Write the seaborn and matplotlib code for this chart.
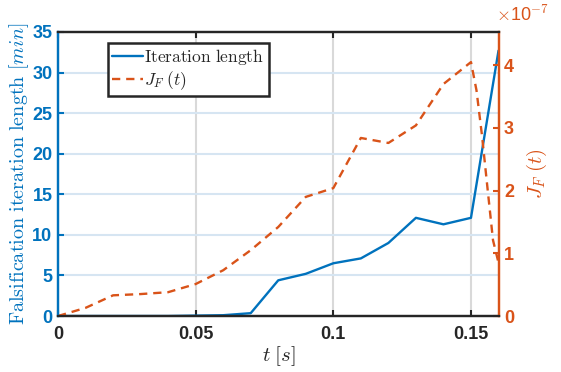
import matplotlib
matplotlib.use("Agg")
import matplotlib.pyplot as plt
import seaborn as sns
import numpy as np

# data
t_iter = [0, 0.01, 0.02, 0.03, 0.04, 0.05, 0.06, 0.07, 0.08, 0.09, 0.10, 0.11, 0.12, 0.13, 0.14, 0.15, 0.16]
iter_len = [0, 0, 0, 0, 0, 0.05, 0.1, 0.35, 4.4, 5.2, 6.5, 7.1, 9.0, 12.1, 11.3, 12.1, 32.7]

t_jf = [0, 0.01, 0.02, 0.03, 0.04, 0.05, 0.06, 0.07, 0.08, 0.09, 0.10, 0.11, 0.12, 0.13, 0.14, 0.15,
        0.152, 0.154, 0.156, 0.158, 0.16]
jf = [0, 0.13, 0.33, 0.35, 0.38, 0.51, 0.73, 1.05, 1.42, 1.9, 2.04, 2.84, 2.76, 3.04, 3.7, 4.05,
      3.6, 2.88, 2.04, 1.21, 0.85]
jf = [v * 1e-7 for v in jf]

blue = "#0072BD"
orange = "#D95319"
dark = "#262626"

sns.set_style("white")
plt.rcParams["mathtext.fontset"] = "cm"
plt.rcParams["font.family"] = ["Liberation Sans", "DejaVu Sans"]

fig = plt.figure(figsize=(5.61, 3.72), dpi=100)
ax = fig.add_axes([0.1034, 0.1505, 0.7852, 0.7635])
ax2 = ax.twinx()

sns.lineplot(x=t_iter, y=iter_len, ax=ax, color=blue, linewidth=1.7, label="it", legend=False)
sns.lineplot(x=t_jf, y=jf, ax=ax2, color=orange, linewidth=1.7, label="jf", legend=False)
ax2.lines[0].set_dashes([3.5, 2.5])

ax.set_xlim(0, 0.16)
ax.set_ylim(0, 35)
ax2.set_ylim(0, 4.53e-7)
ax.set_xticks([0, 0.05, 0.1, 0.15])
ax.set_xticklabels(["0", "0.05", "0.1", "0.15"])
ax.set_yticks(np.arange(0, 36, 5))
ax2.set_yticks([0, 1e-7, 2e-7, 3e-7, 4e-7])
ax2.set_yticklabels(["0", "1", "2", "3", "4"])

# grids: vertical gray, horizontal light blue
for xv in [0.05, 0.1, 0.15]:
    ax.axvline(xv, color="#d9d9d9", linewidth=1.5, zorder=0)
for yv in range(5, 35, 5):
    ax.axhline(yv, color="#d6e5f2", linewidth=1.5, zorder=0)

for a in (ax, ax2):
    for s in a.spines.values():
        s.set_linewidth(1.6)
    a.spines["top"].set_color(dark)
    a.spines["bottom"].set_color(dark)
    a.spines["left"].set_color(blue)
    a.spines["right"].set_color(orange)

ax.tick_params(axis="x", direction="in", length=4, width=1.5, colors=dark, labelsize=13, pad=7,
               top=True, bottom=True)
ax.tick_params(axis="y", direction="in", length=4, width=1.5, colors=blue, labelsize=13, pad=4)
ax2.tick_params(axis="y", direction="in", length=4, width=1.5, colors=orange, labelsize=13, pad=4)
for lab in ax.get_xticklabels() + ax.get_yticklabels() + ax2.get_yticklabels():
    lab.set_fontweight("bold")

ax.set_xlabel(r"$t\;[s]$", fontsize=15, color=dark, labelpad=1)
ax.set_ylabel(r"$\mathrm{Falsification\ iteration\ length}\ [min]$", fontsize=14.5, color=blue, labelpad=1)
ax2.set_ylabel(r"$J_F\;(t)$", fontsize=15, color=orange, labelpad=8)

fig.text(0.885, 0.933, r"$\times$10$^{-7}$", color=orange, fontsize=13, ha="left", va="bottom")

h1, _ = ax.get_legend_handles_labels()
h2, _ = ax2.get_legend_handles_labels()
leg = ax2.legend(h1 + h2, [r"$\mathrm{Iteration\ length}$", r"$J_F\;(t)$"], loc="upper left",
                 bbox_to_anchor=(0.113, 0.962), frameon=True, fancybox=False,
                 fontsize=12.5, handlelength=1.75, handletextpad=0.1,
                 borderpad=0.25, labelspacing=0.1, borderaxespad=0)
leg.get_frame().set_edgecolor(dark)
leg.get_frame().set_linewidth(1.8)
leg.get_frame().set_alpha(1)

fig.savefig("out.png", dpi=100)
